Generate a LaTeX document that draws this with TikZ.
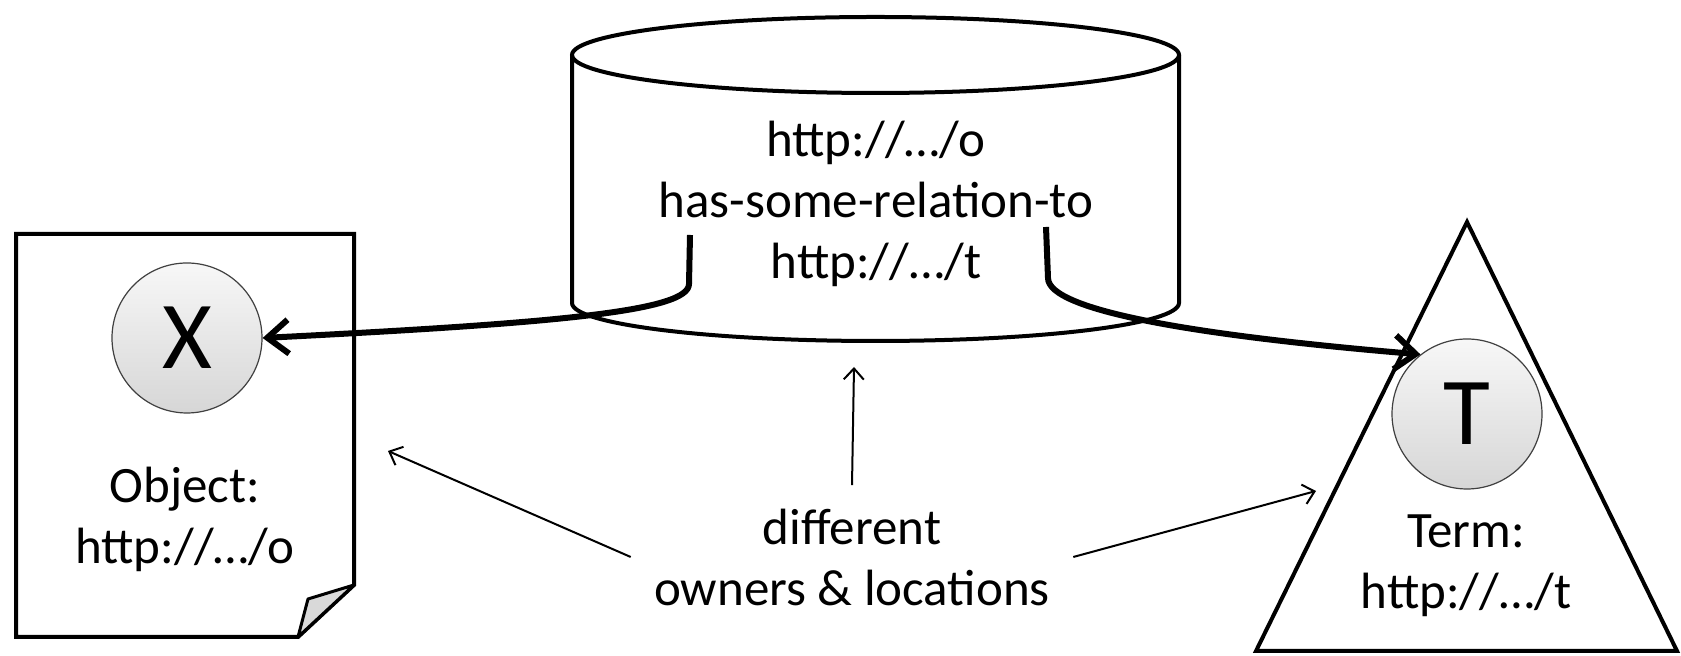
\documentclass[tikz,border=0pt]{standalone}
\usepackage{fontspec}
\setmainfont{Carlito}
\usetikzlibrary{arrows.meta, positioning}
\tikzset{
    shapeline/.style={line width=2pt, line join=miter},
    entity/.style={circle, draw=black!75, line width=0.6pt, top color=gray!6, bottom color=gray!32, minimum size=75pt, inner sep=0pt, font=\fontsize{48}{56}\selectfont},
    urltext/.style={align=center, font=\fontsize{25.5}{30.5}\selectfont},
    linkarrow/.style={-{Straight Barb[length=10.5pt, width=17pt]}, line width=3pt, line join=round},
    pointer/.style={-{Straight Barb[length=5.5pt, width=10pt]}, line width=1pt}
}

\begin{document}
\begin{tikzpicture}[x=0.5pt, y=0.5pt]
    \useasboundingbox (0,0) rectangle (1681,656);

    % Object document (left)
    \draw[shapeline, fill=white] (16,422) -- (354,422) -- (354,71) -- (298,19) -- (16,19) -- cycle;
    \draw[line width=1.5pt, fill=gray!30, line join=round] (354,71) -- (308,57) -- (298,19) -- cycle;
    \node[entity] (X) at (187,318) {X};
    \node[urltext] (object) at (185,137) {Object:\\http://…/o};

    % Store (centre)
    \draw[shapeline, fill=white] (572,601) -- (572,353) arc[start angle=180, end angle=360, x radius=303.5, y radius=38] -- (1179,601);
    \draw[shapeline] (875.5,601) ellipse[x radius=303.5, y radius=38];
    \node[urltext] (triple) at (876,452) {http://…/o\\has-some-relation-to\\http://…/t};

    % Term triangle (right)
    \draw[shapeline, fill=white] (1467,434) -- (1677,5) -- (1256,5) -- cycle;
    \node[entity] (T) at (1467,242) {T};
    \node[urltext] (term) at (1466,90) {Term:\\http://…/t};

    % Owners note (bottom)
    \node[urltext, inner sep=11.5pt] (owners) at (852,99) {different\\owners \& locations};
    \coordinate (storebase) at (854,289);
    \coordinate (docside) at (388,205);
    \coordinate (triside) at (1316,165);

    % Links out of the store
    \coordinate (ofrom) at (690,421);
    \coordinate (tfrom) at (1046,429);
    \draw[linkarrow] (ofrom) -- (689,372) .. controls (689,345) and (560,333) .. (X.east);
    \draw[linkarrow] (tfrom) -- (1048,378) .. controls (1048,345) and (1200,320) .. (T.128);

    \draw[pointer] (owners.north) -- (storebase);
    \draw[pointer] (owners.west) -- (docside);
    \draw[pointer] (owners.east) -- (triside);
\end{tikzpicture}
\end{document}
